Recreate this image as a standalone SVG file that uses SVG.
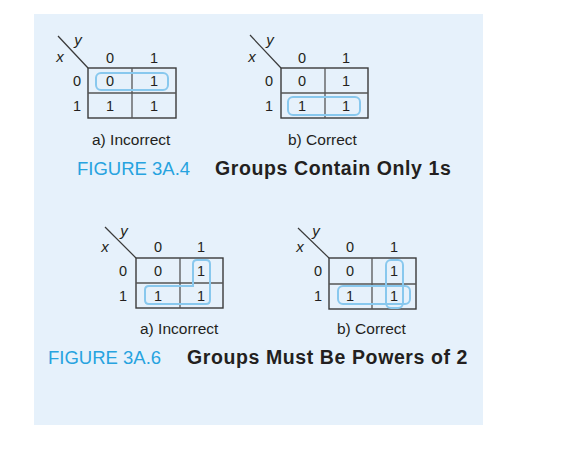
<svg xmlns="http://www.w3.org/2000/svg" width="565" height="458" viewBox="0 0 565 458">
<style>
.grid{fill:none;stroke:#3a3a3a;stroke-width:1.4}
.inner{stroke:#555;stroke-width:1.3}
.diag{stroke:#3a3a3a;stroke-width:1.2}
.num{font-family:"Liberation Sans",Arial,sans-serif;font-size:14.5px;fill:#231f20;text-anchor:middle}
.var{font-family:"Liberation Sans",Arial,sans-serif;font-size:15px;font-style:italic;fill:#231f20;text-anchor:middle}
.hl{fill:none;stroke:#88c8ee;stroke-width:2}
.cap{font-family:"Liberation Sans",Arial,sans-serif;font-size:15.5px;fill:#231f20}
.fig{font-family:"Liberation Sans",Arial,sans-serif;font-size:18.5px;fill:#27a3df}
.title{font-family:"Liberation Sans",Arial,sans-serif;font-size:19.5px;font-weight:bold;fill:#231f20;letter-spacing:0.6px}
</style>
<rect x="34" y="14" width="449" height="411" fill="#e6f1fb"/>

<g id="map-3a4-a">
<line class="diag" x1="58" y1="36" x2="88" y2="68"/>
<text class="var" x="78" y="45">y</text>
<text class="var" x="60" y="62">x</text>
<text class="num" x="110" y="63">0</text>
<text class="num" x="154" y="63">1</text>
<text class="num" x="77" y="86">0</text>
<text class="num" x="77" y="111">1</text>
<rect class="grid" x="88" y="68" width="88" height="50"/>
<line class="inner" x1="132" y1="68" x2="132" y2="118"/>
<line class="inner" x1="88" y1="93" x2="176" y2="93"/>
<text class="num" x="110" y="86">0</text>
<text class="num" x="154" y="86">1</text>
<text class="num" x="110" y="111">1</text>
<text class="num" x="154" y="111">1</text>
<rect class="hl" x="96" y="73" width="72" height="17" rx="5"/>
</g>

<g id="map-3a4-b">
<line class="diag" x1="250" y1="35" x2="281" y2="68"/>
<text class="var" x="270" y="45">y</text>
<text class="var" x="252" y="62">x</text>
<text class="num" x="302" y="63">0</text>
<text class="num" x="346" y="63">1</text>
<text class="num" x="269" y="86">0</text>
<text class="num" x="269" y="111">1</text>
<rect class="grid" x="281" y="68" width="87" height="50"/>
<line class="inner" x1="325" y1="68" x2="325" y2="118"/>
<line class="inner" x1="281" y1="93" x2="368" y2="93"/>
<text class="num" x="302" y="86">0</text>
<text class="num" x="346" y="86">1</text>
<text class="num" x="302" y="111">1</text>
<text class="num" x="346" y="111">1</text>
<rect class="hl" x="288" y="97" width="72" height="18" rx="5"/>
</g>

<g id="caption-3a4">
<text class="cap" x="92" y="145">a) Incorrect</text>
<text class="cap" x="288" y="145">b) Correct</text>
<text class="fig" x="77" y="175">FIGURE 3A.4</text>
<text class="title" x="215" y="175">Groups Contain Only 1s</text>
</g>

<g id="map-3a6-a">
<line class="diag" x1="105" y1="227" x2="136" y2="258"/>
<text class="var" x="124" y="236">y</text>
<text class="var" x="105" y="252">x</text>
<text class="num" x="158" y="252">0</text>
<text class="num" x="201" y="252">1</text>
<text class="num" x="123" y="276">0</text>
<text class="num" x="123" y="301">1</text>
<rect class="grid" x="136" y="258" width="87" height="50"/>
<line class="inner" x1="180" y1="258" x2="180" y2="308"/>
<line class="inner" x1="136" y1="283" x2="223" y2="283"/>
<text class="num" x="158" y="276">0</text>
<text class="num" x="201" y="276">1</text>
<text class="num" x="158" y="301">1</text>
<text class="num" x="201" y="301">1</text>
<path class="hl" d="M197,260 H206 Q210,260 210,264 V300 Q210,304 206,304 H149 Q145,304 145,300 V290 Q145,286 149,286 H193 V264 Q193,260 197,260 Z"/>
</g>

<g id="map-3a6-b">
<line class="diag" x1="298" y1="228" x2="329" y2="258"/>
<text class="var" x="316" y="236">y</text>
<text class="var" x="300" y="252">x</text>
<text class="num" x="350" y="252">0</text>
<text class="num" x="394" y="252">1</text>
<text class="num" x="318" y="276">0</text>
<text class="num" x="318" y="301">1</text>
<rect class="grid" x="329" y="258" width="87" height="51"/>
<line class="inner" x1="372" y1="258" x2="372" y2="309"/>
<line class="inner" x1="329" y1="284" x2="416" y2="284"/>
<text class="num" x="350" y="276">0</text>
<text class="num" x="394" y="276">1</text>
<text class="num" x="350" y="301">1</text>
<text class="num" x="394" y="301">1</text>
<rect class="hl" x="386" y="260" width="17" height="48" rx="5"/>
<rect class="hl" x="338" y="286" width="72" height="18" rx="5"/>
</g>

<g id="caption-3a6">
<text class="cap" x="140" y="334">a) Incorrect</text>
<text class="cap" x="337" y="334">b) Correct</text>
<text class="fig" x="48" y="364">FIGURE 3A.6</text>
<text class="title" x="187" y="364">Groups Must Be Powers of 2</text>
</g>
<g id="connectors"/>
</svg>
